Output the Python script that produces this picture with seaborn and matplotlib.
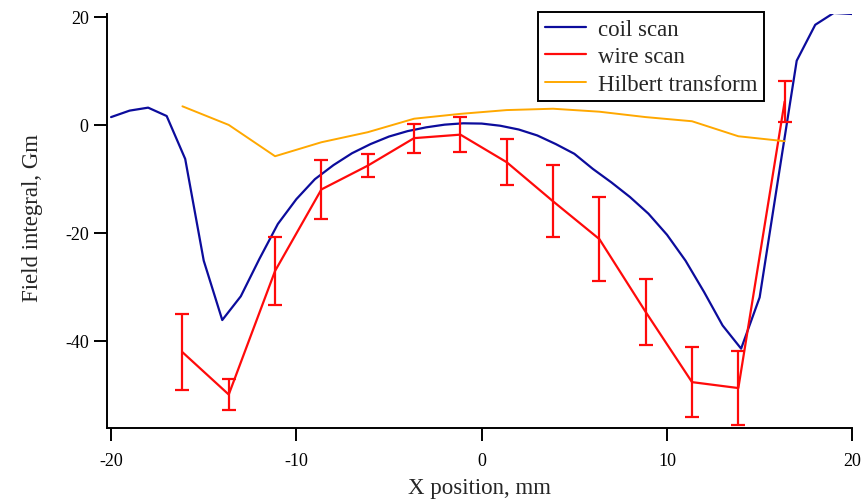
import matplotlib
matplotlib.use("Agg")
import matplotlib.pyplot as plt
import seaborn as sns
import numpy as np
import pandas as pd

# ---- data ----
coil_x = list(range(-20, 21))
coil_y = [1.4, 2.6, 3.15, 1.6, -6.35, -25.2, -36.2, -31.8, -24.9, -18.4,
          -13.8, -10.1, -7.5, -5.3, -3.6, -2.2, -1.2, -0.5, 0.0, 0.25,
          0.2, -0.2, -0.9, -2.0, -3.6, -5.4, -8.2, -10.7, -13.4, -16.5,
          -20.4, -25.2, -31.0, -37.2, -41.5, -32.0, -10.0, 11.85, 18.5, 20.7,
          20.5]

wire_x = [-16.15, -13.65, -11.15, -8.65, -6.15, -3.65, -1.15, 1.35, 3.85,
          6.35, 8.85, 11.35, 13.85, 16.35]
wire_y = [-42.15, -50.0, -27.1, -12.0, -7.6, -2.5, -1.85, -6.96, -14.2,
          -21.2, -34.7, -47.7, -48.8, 4.3]
wire_err = [7.1, 2.9, 6.3, 5.5, 2.1, 2.7, 3.2, 4.3, 6.7, 7.8, 6.1, 6.5, 6.9, 3.8]

hilbert_x = wire_x
hilbert_y = [3.4, -0.05, -5.85, -3.26, -1.4, 1.1, 2.0, 2.7, 2.95, 2.4, 1.4,
             0.63, -2.15, -3.07]

x_ticks = [-20, -10, 0, 10, 20]
y_ticks = [-40, -20, 0, 20]

# ---- style ----
sns.set_style("ticks")
plt.rcParams['font.family'] = ['Liberation Serif', 'DejaVu Serif']
plt.rcParams['axes.unicode_minus'] = False

fig = plt.figure(figsize=(8.68, 5.02), dpi=100)
ax = fig.add_axes([107/868, 1-429/502, (852.3-107)/868, (429-15)/502])

blue = "#0c0c9c"
red = "#ff0a0a"
orange = "#ffa800"

coil_df = pd.DataFrame({"x": coil_x, "y": coil_y})
wire_df = pd.DataFrame({"x": wire_x, "y": wire_y})
hil_df = pd.DataFrame({"x": hilbert_x, "y": hilbert_y})

sns.lineplot(data=coil_df, x="x", y="y", color=blue, lw=1.6, ax=ax,
             label="coil scan", sort=False)
sns.lineplot(data=wire_df, x="x", y="y", color=red, lw=1.6, ax=ax,
             label="wire scan", sort=False)
sns.lineplot(data=hil_df, x="x", y="y", color=orange, lw=1.4, ax=ax,
             label="Hilbert transform", sort=False)
ax.errorbar(wire_x, wire_y, yerr=wire_err, fmt='none', ecolor=red,
            elinewidth=1.6, capsize=5, capthick=1.6)

ax.set_xlim(-20.22, 20.0)
ax.set_ylim(-56.2, 20.5)
ax.set_xticks(x_ticks)
ax.set_yticks(y_ticks)
ax.set_xticklabels([str(t) for t in x_ticks])
ax.set_yticklabels([str(t) for t in y_ticks])

for s in ["top", "right"]:
    ax.spines[s].set_visible(False)
for s in ["left", "bottom"]:
    ax.spines[s].set_color("black")
    ax.spines[s].set_linewidth(1.4)

ax.tick_params(axis='both', direction='out', length=9.2, width=1.4,
               colors='black', labelsize=13, bottom=True, left=True)
ax.tick_params(axis='x', pad=8)
ax.tick_params(axis='y', pad=4)

ax.set_xlabel("X position, mm", fontsize=16.5, labelpad=6)
ax.set_ylabel("Field integral, Gm", fontsize=16.5)
ax.yaxis.set_label_coords(-0.086, 0.51)

leg = ax.legend(loc="upper right", bbox_to_anchor=(764/868, 1-13/502),
                bbox_transform=fig.transFigure, fontsize=16.5,
                frameon=True, fancybox=False, framealpha=1,
                edgecolor="black", handlelength=1.8, handletextpad=0.5,
                labelspacing=0.275, borderpad=0.3, borderaxespad=0)
leg.get_frame().set_linewidth(1.4)

fig.savefig("out.png", dpi=100)
